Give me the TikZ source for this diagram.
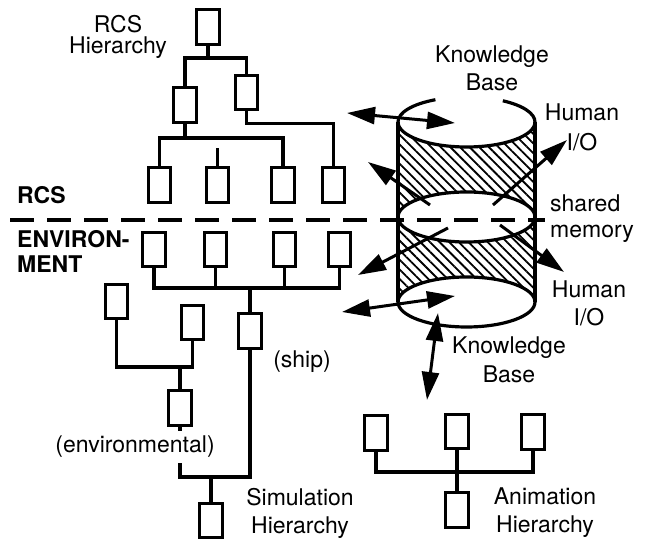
\documentclass[tikz,border=0pt]{standalone}
\usepackage{fontspec}
\setmainfont{TeX Gyre Heros}
\usetikzlibrary{arrows.meta,patterns.meta}

\begin{document}
\begin{tikzpicture}[x=1pt,y=1pt,
  blk/.style={draw,line width=3.2pt,minimum width=22.5pt,minimum height=34.5pt,inner sep=0pt},
  wire/.style={line width=3.2pt},
  lbl/.style={font=\fontsize{23}{28}\selectfont,align=center,inner sep=0pt},
  sidelbl/.style={font=\fontsize{23}{25}\bfseries\selectfont,align=left,inner sep=0pt},
  flow/.style={line width=3pt,-{Triangle[length=28pt,width=17pt]}},
  dflow/.style={line width=3pt,{Triangle[length=28pt,width=17pt]}-{Triangle[length=28pt,width=17pt]}},
  hatch/.style={pattern={Lines[angle=-45,distance=6.8pt,line width=1.8pt]}},
  cyl/.style={x radius=68.5,y radius=25}]
  \useasboundingbox (0,0) rectangle (649,543);

  % shared memory cylinder
  \fill[hatch] (398,421) arc[cyl,start angle=180,end angle=360] -- (535,326)
    arc[cyl,start angle=0,end angle=180] -- cycle;
  \fill[hatch] (398,326) arc[cyl,start angle=180,end angle=360] -- (535,241)
    arc[cyl,start angle=0,end angle=180] -- cycle;
  \draw[wire] (398,421) -- (398,241) (535,421) -- (535,241);
  \draw[wire] (398,421) arc[cyl,start angle=180,end angle=360];
  \draw[wire] (398,421) arc[cyl,start angle=180,end angle=117];
  \draw[wire] (535,421) arc[cyl,start angle=0,end angle=58];
  \draw[wire] (466.5,326) ellipse[cyl];
  \draw[wire] (466.5,241) ellipse[cyl];

  \draw[line width=4pt,dash pattern=on 24pt off 13pt] (10,323) -- (545,323);

  % RCS hierarchy
  \node[blk] (r0) at (208,516) {};
  \node[blk] (r1) at (185,438) {};
  \node[blk] (r2) at (246.5,450.5) {};
  \node[blk] (r3) at (159.5,358) {};
  \node[blk] (r4) at (217.5,358) {};
  \node[blk] (r5) at (283,358) {};
  \node[blk] (r6) at (333.5,358) {};
  \coordinate (b0) at (208,485);
  \coordinate (b1) at (185,405);
  \draw[wire] (r0.south) -- (b0) (r1.north) |- (b0) (r2.north) |- (b0);
  \draw[wire] (r1.south) -- (b1) (r3.north) |- (b1) (r5.north) |- (b1);
  \draw[wire] (r4.north) -- ++(0,18);
  \draw[wire] (r2.south) -- ++(0,-12) -| (r6.north);

  % simulation hierarchy
  \node[blk] (e1) at (154,293.5) {};
  \node[blk] (e2) at (215.5,293.5) {};
  \node[blk] (e3) at (284.5,293.5) {};
  \node[blk] (e4) at (339.5,293.5) {};
  \node[blk] (ship) at (250,212) {};
  \node[blk] (sa) at (116.5,241.5) {};
  \node[blk] (sb) at (192.5,220.5) {};
  \node[blk] (sc) at (180,135) {};
  \node[blk] (sim) at (211,22.5) {};
  \coordinate (b2) at (250,255);
  \coordinate (b3) at (180,176);
  \coordinate (b4) at (211,66);
  \foreach \i in {1,...,4}
    \draw[wire] (e\i.south) |- (b2);
  \draw[wire] (b2) -- (ship.north);
  \draw[wire] (sa.south) |- (b3) (sb.south) |- (b3) (b3) -- (sc.north);
  \draw[wire] (sc.south) |- (b4) (ship.south) |- (b4) (b4) -- (sim.north);

  % animation hierarchy
  \node[blk] (a1) at (376,110) {};
  \node[blk] (a2) at (457,111.5) {};
  \node[blk] (a3) at (533,111) {};
  \node[blk] (a4) at (457,33) {};
  \coordinate (b5) at (457,71);
  \foreach \i in {1,2,3}
    \draw[wire] (a\i.south) |- (b5);
  \draw[wire] (b5) -- (a4.north);

  % data flows
  \coordinate (kb1) at (347,430);  \coordinate (kb2) at (455,420);
  \coordinate (io1) at (430,338);  \coordinate (io2) at (368,381);
  \coordinate (io3) at (493,338);  \coordinate (io4) at (567,403);
  \coordinate (io5) at (448,315);  \coordinate (io6) at (358,268);
  \coordinate (io7) at (500,318);  \coordinate (io8) at (564,271);
  \coordinate (kb3) at (342,231);  \coordinate (kb4) at (455,247);
  \coordinate (kb5) at (438,230);  \coordinate (kb6) at (427,143);
  \draw[dflow] (kb1) -- (kb2);
  \draw[flow] (io1) -- (io2);
  \draw[flow] (io3) -- (io4);
  \draw[flow] (io5) -- (io6);
  \draw[flow] (io7) -- (io8);
  \draw[dflow] (kb3) -- (kb4);
  \draw[dflow] (kb5) -- (kb6);

  % labels
  \node[lbl,font=\fontsize{23}{21}\selectfont] (rcsh) at (118,506.3) {RCS\\Hierarchy};
  \node[lbl] (kbtop) at (492,475) {Knowledge\\Base};
  \node[lbl,font=\fontsize{23}{30}\selectfont] (iotop) at (582,416) {Human\\I/O};
  \node[lbl,align=left,anchor=west,font=\fontsize{23}{26}\selectfont] (shm) at (550,324) {shared\\memory};
  \node[lbl] (iobot) at (589,240) {Human\\I/O};
  \node[lbl,font=\fontsize{23}{29}\selectfont] (kbbot) at (509,183) {Knowledge\\Base};
  \node[lbl] (shipl) at (302,181) {(ship)};
  \node[lbl,fill=white,inner ysep=5pt] (envl) at (135,96) {(environmental)};
  \node[lbl] (siml) at (300,30) {Simulation\\Hierarchy};
  \node[lbl] (animl) at (545,30) {Animation\\Hierarchy};
  \node[sidelbl,anchor=base west] (rcs) at (17,339) {RCS};
  \node[sidelbl,anchor=west] (envm) at (17,292) {ENVIRON-\\MENT};
\end{tikzpicture}
\end{document}
